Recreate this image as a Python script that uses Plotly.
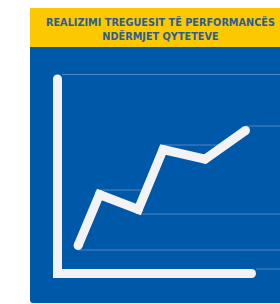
import plotly.graph_objects as go

# ---- data (in chart units) ----
title_lines = ["REALIZIMI TREGUESIT TË PERFORMANCËS", "NDËRMJET QYTETEVE"]
x_vals = [1.03, 2.1, 4.04, 5.28, 7.38, 9.4]
y_vals = [1.4, 3.95, 3.2, 6.2, 5.72, 7.15]
guide_points = [0, 1, 2, 3, 5]          # points that carry a thin level line
axis_top = 9.725
axis_right = 9.7

# ---- style ----
OFF = 0                   # body margin removed by post script
W, H = 280 - OFF, 304 - OFF
PX = 20.0                 # pixels per unit
X0_PX, Y0_PX = 57.5 - OFF, 273.5 - OFF
BLUE = "#0059a8"
YELLOW = "#fcc800"
WHITE = "#f3f2f5"
GUIDE = "#4f85c4"
TEXT = "#2b5d97"
LW = 9
HALF = LW / 2 / PX

x_range = [-X0_PX / PX, (W - X0_PX) / PX]
y_range = [(Y0_PX - H) / PX, Y0_PX / PX]
x_edge = x_range[1]

def px(x):
    return (x - OFF) / W

def py(y):
    return 1 - (y - OFF) / H

fig = go.Figure()

shapes = []
# header band
shapes.append(dict(type="rect", xref="paper", yref="paper",
                   x0=px(30), x1=px(280), y0=py(47), y1=py(8),
                   fillcolor=YELLOW, line=dict(width=0), layer="below"))
# blue panel with rounded bottom-left corner
r = 3
path = (f"M {px(30)},{py(47)} L {px(280)},{py(47)} L {px(280)},{py(303)} "
        f"L {px(30 + r)},{py(303)} Q {px(30)},{py(303)} {px(30)},{py(303 - r)} Z")
shapes.append(dict(type="path", xref="paper", yref="paper", path=path,
                   fillcolor=BLUE, line=dict(width=0), layer="below"))

# level guides
def guide(y, x0, x1):
    shapes.append(dict(type="line", xref="x", yref="y", x0=x0, x1=x1, y0=y, y1=y,
                       line=dict(color=GUIDE, width=1), layer="below"))

guide(axis_top + HALF, HALF, x_edge)
guide(HALF, axis_right + HALF, x_edge)
n = len(y_vals)
for i in guide_points:
    prev_y = y_vals[i - 1] if i > 0 else None
    next_y = y_vals[i + 1] if i < n - 1 else None
    higher = (prev_y is None or y_vals[i] > prev_y) and (next_y is None or y_vals[i] > next_y)
    lvl = y_vals[i] + (HALF if higher else -HALF)
    x_end = x_edge
    for j in range(i + 1, n - 1):
        ya, yb = y_vals[j], y_vals[j + 1]
        if (ya - lvl) * (yb - lvl) < 0:
            t = (lvl - ya) / (yb - ya)
            x_end = x_vals[j] + t * (x_vals[j + 1] - x_vals[j])
            break
    guide(lvl, x_vals[i], x_end)

# axis L
fig.add_trace(go.Scatter(x=[0, 0, axis_right], y=[axis_top, 0, 0], mode="lines",
                         line=dict(color=WHITE, width=LW), hoverinfo="skip"))
fig.add_trace(go.Scatter(x=[0, axis_right], y=[axis_top, 0], mode="markers",
                         marker=dict(color=WHITE, size=LW, line=dict(width=0)), hoverinfo="skip"))
# data line
fig.add_trace(go.Scatter(x=x_vals, y=y_vals, mode="lines",
                         line=dict(color=WHITE, width=LW), hoverinfo="skip"))
fig.add_trace(go.Scatter(x=x_vals, y=y_vals, mode="markers",
                         marker=dict(color=WHITE, size=LW, line=dict(width=0)), hoverinfo="skip"))

fig.add_annotation(text="<br>".join(title_lines), xref="paper", yref="paper",
                   x=px(160), y=py(29), xanchor="center", yanchor="middle",
                   showarrow=False, align="center",
                   font=dict(family="DejaVu Sans Condensed, Liberation Sans Narrow, sans-serif",
                             size=10.8, color=TEXT, weight="bold"))

fig.update_layout(width=W, height=H, margin=dict(l=0, r=0, t=0, b=0),
                  paper_bgcolor="white", plot_bgcolor="rgba(0,0,0,0)",
                  showlegend=False, shapes=shapes,
                  xaxis=dict(range=x_range, visible=False, fixedrange=True),
                  yaxis=dict(range=y_range, visible=False, fixedrange=True))

fig.write_html("out.html", config={"displayModeBar": False},
               post_script="document.body.style.margin='0';document.body.style.overflow='hidden';")
